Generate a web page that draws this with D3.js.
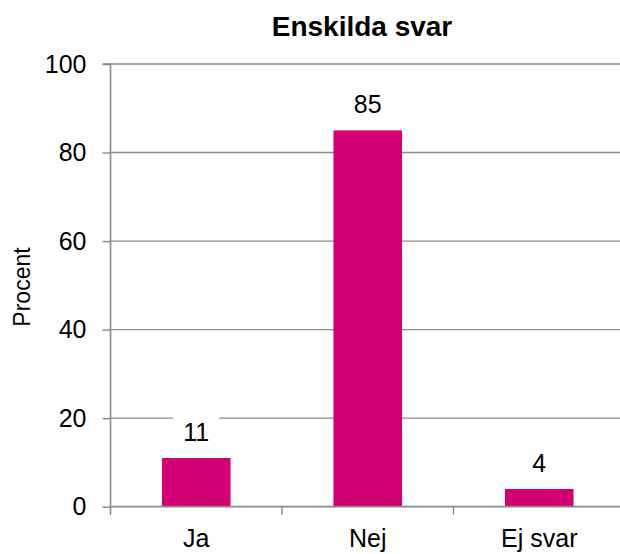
<!DOCTYPE html>
<html>
<head>
<meta charset="utf-8">
<script src="https://cdn.jsdelivr.net/npm/d3@7"></script>
<style>
  html, body { margin: 0; padding: 0; background: #fff; }
  svg { display: block; font-family: "Liberation Sans", Arial, sans-serif; }
</style>
</head>
<body>
<div id="chart"></div>
<script>
const title = "Enskilda svar";
const yAxisTitle = "Procent";
const categories = ["Ja", "Nej", "Ej svar"];
const values = [11, 85, 4];
const yTicks = [0, 20, 40, 60, 80, 100];

const W = 620, H = 554;
const mLeft = 110.5, mRight = 625, mTop = 64, mBottom = 506.7;

const svg = d3.select("#chart").append("svg").attr("width", W).attr("height", H);

const y = d3.scaleLinear().domain([0, 100]).range([mBottom, mTop]);
const x = d3.scaleBand().domain(categories).range([mLeft, mRight]).paddingInner(0.6).paddingOuter(0.3);
const step = x.step();

// gridlines
svg.append("g").selectAll("line").data(yTicks.filter(d => d > 0)).join("line")
  .attr("x1", mLeft).attr("x2", W)
  .attr("y1", d => y(d)).attr("y2", d => y(d))
  .attr("stroke", "#978a7c").attr("stroke-width", 1.4);

// bars
svg.append("g").selectAll("rect").data(values).join("rect")
  .attr("x", (d, i) => x(categories[i]))
  .attr("width", x.bandwidth())
  .attr("y", d => y(d))
  .attr("height", d => y(0) - y(d))
  .attr("fill", "#d20073");

// y axis
const yAxis = d3.axisLeft(y).tickValues(yTicks).tickSize(8).tickPadding(16).tickFormat(d3.format("d"));
const gy = svg.append("g").attr("transform", `translate(${mLeft},0)`).call(yAxis);
gy.select(".domain").attr("stroke", "#888").attr("stroke-width", 1.6).attr("d", `M-8,${mTop}H0V${mBottom + 8}`);
gy.selectAll(".tick line").attr("stroke", "#888").attr("stroke-width", 1.4);
gy.selectAll(".tick text").attr("font-size", 25).attr("fill", "#000")
  .attr("font-family", "Liberation Sans, Arial, sans-serif");

// x axis baseline
svg.append("line").attr("x1", mLeft).attr("x2", W).attr("y1", mBottom).attr("y2", mBottom)
  .attr("stroke", "#888").attr("stroke-width", 1.8);

// category boundary ticks
const boundaries = d3.range(1, categories.length + 1).map(i => x.range()[0] + i * step);
svg.append("g").selectAll("line").data(boundaries).join("line")
  .attr("x1", d => d).attr("x2", d => d)
  .attr("y1", mBottom).attr("y2", mBottom + 8)
  .attr("stroke", "#888").attr("stroke-width", 1.4);

// category labels
svg.append("g").selectAll("text").data(categories).join("text")
  .attr("x", d => x(d) + x.bandwidth() / 2)
  .attr("y", 547)
  .attr("text-anchor", "middle")
  .attr("font-size", 25)
  .attr("fill", "#000")
  .text(d => d);

// data labels with white background
const lbl = svg.append("g").selectAll("g").data(values).join("g");
lbl.append("rect")
  .attr("x", (d, i) => x(categories[i]) + x.bandwidth() / 2 - 23)
  .attr("y", d => y(d) - 17 - 26)
  .attr("width", 46)
  .attr("height", 36)
  .attr("fill", "#fff");
lbl.append("text")
  .attr("x", (d, i) => x(categories[i]) + x.bandwidth() / 2)
  .attr("y", d => y(d) - 17)
  .attr("text-anchor", "middle")
  .attr("font-size", 25)
  .attr("fill", "#000")
  .text(d => d);

// title
svg.append("text")
  .attr("x", 362).attr("y", 36)
  .attr("text-anchor", "middle")
  .attr("font-size", 28).attr("font-weight", "bold")
  .attr("fill", "#000")
  .text(title);

// y axis title
svg.append("text")
  .attr("transform", `translate(30,287) rotate(-90)`)
  .attr("text-anchor", "middle")
  .attr("font-size", 23)
  .attr("fill", "#000")
  .text(yAxisTitle);
</script>
</body>
</html>
